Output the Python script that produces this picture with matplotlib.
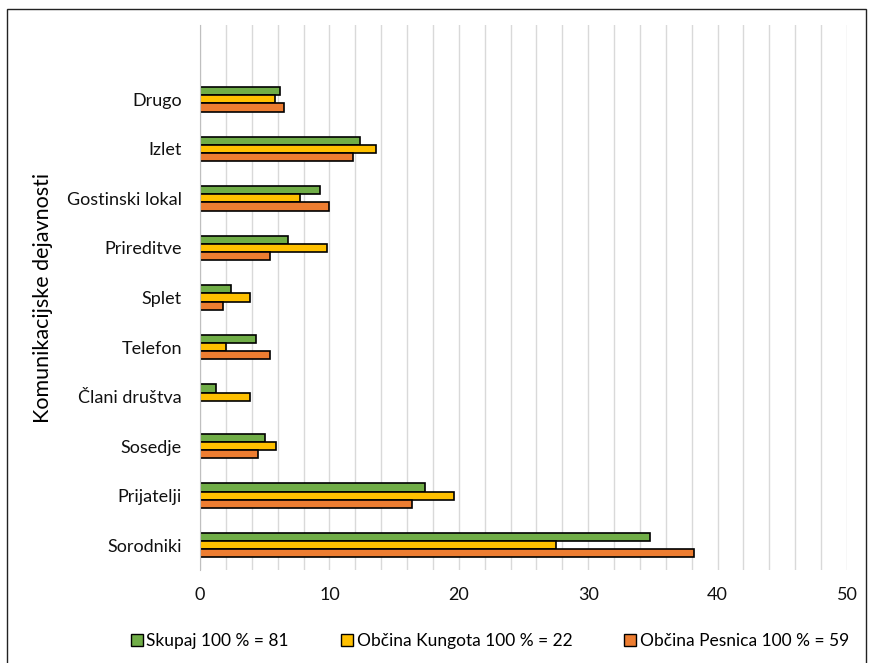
import matplotlib.pyplot as plt
import matplotlib.patches as mpatches
import numpy as np

plt.rcParams['font.family'] = ['Lato', 'DejaVu Sans']

# categories from bottom to top
categories = ['Sorodniki', 'Prijatelji', 'Sosedje', 'Člani društva', 'Telefon',
              'Splet', 'Prireditve', 'Gostinski lokal', 'Izlet', 'Drugo']
skupaj = [34.8, 17.4, 5.0, 1.2, 4.3, 2.4, 6.8, 9.3, 12.4, 6.2]
kungota = [27.5, 19.6, 5.9, 3.9, 2.0, 3.9, 9.8, 7.7, 13.6, 5.8]
pesnica = [38.2, 16.4, 4.5, 0.0, 5.4, 1.8, 5.4, 10.0, 11.8, 6.5]

series_labels = ['Skupaj 100 % = 81', 'Občina Kungota 100 % = 22',
                 'Občina Pesnica 100 % = 59']
colors = ['#70AD47', '#FFC000', '#ED7D31']

fig = plt.figure(figsize=(8.72, 6.63), dpi=100)
fig.patch.set_facecolor('white')
ax = fig.add_axes([200 / 872, 1 - 570 / 663, 647 / 872, 545 / 663])

# outer frame
fig.add_artist(mpatches.Rectangle((7 / 872, -0.01), 859 / 872, 1 - 9 / 663 + 0.01,
                                  transform=fig.transFigure, fill=False,
                                  edgecolor='#222222', linewidth=1.0))

y = np.arange(len(categories))
h = 0.165
for vals, off, col, lab in zip([skupaj, kungota, pesnica], [h, 0, -h],
                               colors, series_labels):
    ax.barh(y + off, vals, height=h, color=col, edgecolor='black',
            linewidth=1.2, label=lab, zorder=3)

ax.set_xlim(0, 50)
ax.set_ylim(-0.5, 10.5)
ax.set_xticks(np.arange(0, 51, 2), minor=True)
ax.set_xticks(np.arange(0, 51, 10))
ax.grid(axis='x', which='both', color='#d9d9d9', linewidth=1.0, zorder=0)
ax.set_yticks(y)
ax.set_yticklabels(categories)
ax.tick_params(axis='both', which='both', length=0, labelsize=13, colors='#111111')
ax.tick_params(axis='y', pad=13)
ax.tick_params(axis='x', pad=12)
for s in ['top', 'right', 'bottom']:
    ax.spines[s].set_visible(False)
ax.spines['left'].set_color('#bfbfbf')
ax.spines['left'].set_zorder(4)
ax.set_ylabel('Komunikacijske dejavnosti', fontsize=15.5, labelpad=10)

handles = [mpatches.Patch(facecolor=c, edgecolor='black', linewidth=1.0) for c in colors]
fig.legend(handles, series_labels, loc='center', bbox_to_anchor=(490 / 872, 1 - 641 / 663),
           ncol=3, frameon=False, fontsize=12.5, handlelength=0.7, handleheight=0.7,
           handletextpad=0.2, columnspacing=3.0)

fig.savefig('out.png', dpi=100, facecolor='white')
